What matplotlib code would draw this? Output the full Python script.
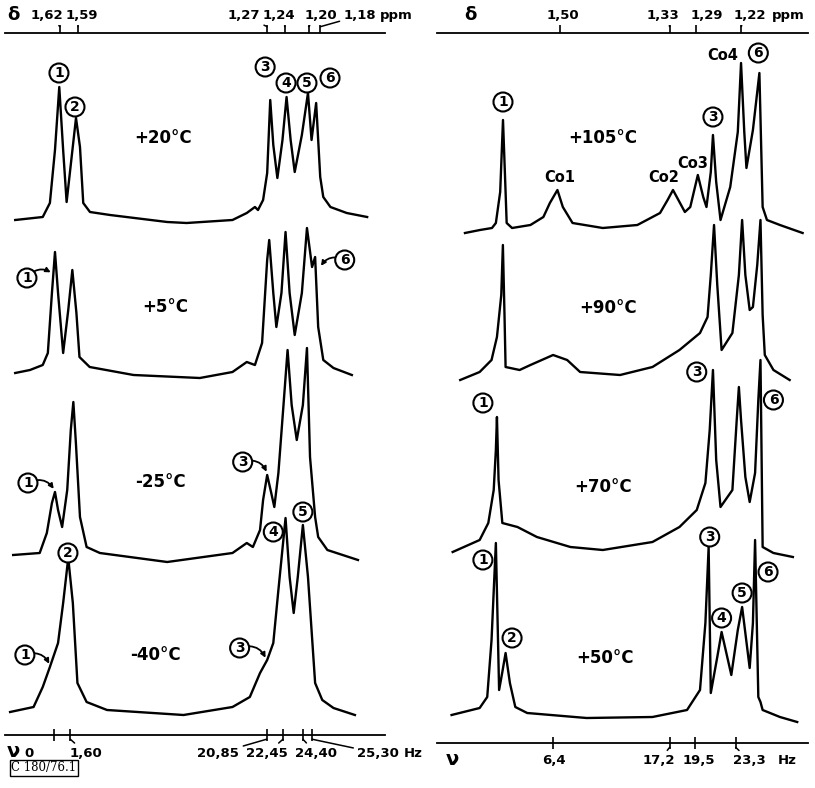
import numpy as np
import matplotlib.pyplot as plt

plt.rcParams['font.family'] = ['DejaVu Sans']

# ---- left panel: -40 .. +20 °C, nu in Hz, intensity in arb. units above baseline
left_temps = ['+20°C', '+5°C', '-25°C', '-40°C']
left_offsets = [515, 362, 180, 23]

nu_l20 = [-3.8, -1.1, -0.4, 0.1, 0.52, 0.9, 1.24, 1.7, 2.16, 2.55, 2.87, 3.53, 5.5, 11.1, 13.0,
          17.5, 18.9, 19.7, 20.0, 20.5, 20.9, 21.2, 21.5, 21.9, 22.4, 22.8, 23.2, 23.6, 24.3,
          24.9, 25.25, 25.7, 26.1, 26.4, 27.1, 28.7, 30.7]
h_l20 = [0, 3, 17, 70, 133, 70, 18, 60, 102, 73, 17, 8, 5, -2, -3,
         0, 7, 13, 10, 20, 47, 120, 75, 42, 80, 123, 80, 48, 85,
         127, 80, 117, 43, 23, 13, 7, 3]

nu_l5 = [-3.8, -2.35, -1.1, -0.6, -0.2, 0.1, 0.4, 0.9, 1.4, 1.8, 2.2, 2.5, 3.5, 7.8, 14.3,
         17.5, 18.9, 19.7, 20.4, 20.9, 21.1, 21.5, 21.8, 22.3, 22.7, 23.1, 23.6, 24.3, 24.8,
         25.3, 25.6, 25.9, 26.4, 27.4, 29.2]
h_l5 = [0, 3, 8, 20, 80, 121, 80, 20, 63, 103, 60, 16, 6, -2, -5,
        1, 11, 8, 30, 113, 133, 80, 46, 80, 141, 80, 38, 80, 145,
        106, 116, 46, 13, 5, -2]

nu_lm25 = [-4.0, -1.4, -0.7, -0.2, 0.1, 0.4, 0.8, 1.3, 1.65, 1.9, 2.15, 2.55, 3.2, 4.5, 11.1,
           17.5, 18.9, 19.5, 20.2, 20.5, 20.9, 21.3, 21.6, 22.0, 22.5, 22.9, 23.3, 23.8, 24.4,
           24.8, 25.1, 25.6, 25.9, 26.8, 29.8]
h_lm25 = [0, 2, 22, 52, 63, 45, 28, 65, 125, 153, 112, 38, 8, 2, -7,
          2, 12, 8, 25, 55, 80, 62, 48, 82, 150, 205, 150, 115, 150,
          207, 98, 38, 18, 5, -5]

nu_lm40 = [-4.3, -2.0, -1.1, -0.4, 0.4, 0.9, 1.4, 1.85, 2.3, 3.2, 5.2, 12.7, 17.5, 19.2,
           20.2, 20.9, 21.5, 22.0, 22.7, 23.1, 23.5, 23.9, 24.4, 24.9, 25.6, 26.3, 27.4, 29.5]
h_lm40 = [0, 5, 25, 45, 69, 109, 154, 109, 29, 10, 2, -3, 5, 15,
          39, 52, 69, 122, 194, 135, 99, 135, 187, 135, 29, 12, 4, -3]

# ---- right panel: +50 .. +105 °C
right_temps = ['+105°C', '+90°C', '+70°C', '+50°C']
right_offsets = [511, 368, 193, 26]

nu_r105 = [-1.76, -0.37, 0.74, 1.1, 1.5, 1.76, 2.0, 2.1, 2.6, 4.3, 5.5, 6.1, 6.8, 7.3, 8.2,
           11.0, 14.2, 16.3, 17.0, 17.5, 18.0, 18.6, 19.1, 19.8, 20.3, 20.6, 21.0, 21.2, 21.5,
           21.9, 22.8, 23.5, 23.8, 24.1, 24.3, 24.9, 25.3, 25.5, 25.8, 26.2, 27.4, 29.5]
h_r105 = [-1, 2, 4, 9, 40, 112, 40, 9, 4, 7, 15, 29, 42, 25, 9,
          4, 7, 19, 32, 42, 32, 20, 25, 57, 35, 25, 60, 97, 50,
          12, 45, 100, 169, 100, 64, 102, 140, 159, 25, 12, 7, -1]

nu_r90 = [-2.2, -0.4, 0.7, 1.2, 1.6, 1.75, 1.9, 2.0, 3.3, 4.3, 6.4, 7.7, 8.9, 12.6, 15.6,
          18.1, 20.0, 20.7, 21.0, 21.3, 21.6, 22.0, 23.0, 23.6, 23.9, 24.2, 24.6, 24.9, 25.3,
          25.6, 25.8, 26.0, 26.8, 28.3]
h_r90 = [-5, 3, 15, 38, 80, 130, 60, 8, 5, 10, 20, 15, 3, 0, 8,
         25, 42, 58, 100, 150, 90, 25, 42, 100, 155, 100, 65, 68, 110,
         155, 60, 20, 5, -5]

nu_r70 = [-2.9, -0.4, 0.4, 0.9, 1.1, 1.2, 1.35, 1.7, 3.1, 4.9, 8.0, 11.0, 15.6, 18.1, 19.7,
          20.5, 20.9, 21.2, 21.5, 21.9, 23.0, 23.4, 23.6, 23.8, 24.2, 24.6, 25.1, 25.4, 25.6,
          25.8, 26.8, 28.6]
h_r70 = [-2, 10, 27, 60, 100, 133, 70, 27, 23, 13, 3, 0, 8, 23, 40,
         67, 120, 180, 90, 43, 60, 130, 163, 130, 73, 48, 77, 150, 190,
         3, -3, -7]

nu_r50 = [-3.0, -0.4, 0.3, 0.7, 1.1, 1.4, 1.7, 2.0, 2.4, 2.9, 4.0, 9.5, 15.6, 18.8, 20.0,
          20.5, 20.8, 21.0, 21.6, 22.0, 22.9, 23.5, 23.9, 24.6, 24.9, 25.1, 25.4, 25.6, 25.8,
          27.4, 29.0]
h_r50 = [2, 9, 20, 77, 174, 27, 45, 64, 34, 10, 4, -1, 0, 7, 27,
         94, 170, 24, 60, 85, 42, 87, 110, 49, 94, 177, 20, 15, 7,
         0, -5]

# axis ticks
left_nu_ticks = [0, 1.60, 20.85, 22.45, 24.40, 25.30]
left_nu_labels = ['0', '1,60', '20,85', '22,45', '24,40', '25,30']
left_ppm_ticks = [1.62, 1.59, 1.27, 1.24, 1.20, 1.18]
left_ppm_labels = ['1,62', '1,59', '1,27', '1,24', '1,20', '1,18']
right_nu_ticks = [6.4, 17.2, 19.5, 23.3]
right_nu_labels = ['6,4', '17,2', '19,5', '23,3']
right_ppm_ticks = [1.50, 1.33, 1.29, 1.22]
right_ppm_labels = ['1,50', '1,33', '1,29', '1,22']

W, H = 815, 788
fig = plt.figure(figsize=(W / 100, H / 100), dpi=100)
axL = fig.add_axes([5 / W, 1 - 735 / H, 380 / W, 702 / H])
axR = fig.add_axes([437 / W, 1 - 743 / H, 371 / W, 710 / H])

TXT = dict(fontweight='bold', color='k')
LBL = 9.5


def setup(ax, xlim, ylim, nu_ticks, ppm_ticks, nu0, ppm0, slope):
    ax.set_xlim(*xlim)
    ax.set_ylim(*ylim)
    for s in ['left', 'right', 'top']:
        ax.spines[s].set_visible(False)
    ax.spines['bottom'].set_linewidth(1.3)
    ax.set_yticks([])
    ax.set_xticks(nu_ticks)
    ax.tick_params(axis='x', direction='inout', length=9, width=1.2, labelbottom=False)
    to_ppm = lambda v: ppm0 - (np.asarray(v) - nu0) / slope
    to_nu = lambda d: nu0 + (ppm0 - np.asarray(d)) * slope
    sec = ax.secondary_xaxis('top', functions=(to_ppm, to_nu))
    sec.set_xticks(ppm_ticks)
    sec.tick_params(direction='out', length=6, width=1.2, labeltop=False)
    sec.spines['top'].set_linewidth(1.3)
    return to_nu


def axis_labels(ax, ticks, labels, xs, y, side, leaders):
    tr = ax.get_xaxis_transform()
    y0 = 1.009 if side == 'top' else -0.006
    for t, lab, x, lead in zip(ticks, labels, xs, leaders):
        arrow = None
        if lead:
            arrow = dict(arrowstyle='-', lw=1.1, color='k', shrinkA=1, shrinkB=0)
        ax.annotate(lab, xy=(t, y0), xycoords=tr, xytext=(x, y), textcoords=tr,
                    ha='center', va='center', fontsize=LBL, arrowprops=arrow,
                    annotation_clip=False, **TXT)


def circ(ax, x, y, n, target=None, rad=-0.45):
    kw = dict(ha='center', va='center', fontsize=10, zorder=5,
              bbox=dict(boxstyle='circle,pad=0.18', fc='white', ec='k', lw=1.5), **TXT)
    if target is None:
        ax.text(x, y, str(n), **kw)
    else:
        ax.annotate(str(n), xy=target, xytext=(x, y),
                    arrowprops=dict(arrowstyle='-|>', connectionstyle=f'arc3,rad={rad}',
                                    lw=1.3, color='k', mutation_scale=7, shrinkA=0, shrinkB=1),
                    **kw)


# ---------------- left panel
to_nu_L = setup(axL, (-4.8, 32.45), (0, 702), left_nu_ticks, left_ppm_ticks, 0.6, 1.62, 58.0)
left_traces = [(nu_l20, h_l20), (nu_l5, h_l5), (nu_lm25, h_lm25), (nu_lm40, h_lm40)]
for (nu, h), off in zip(left_traces, left_offsets):
    axL.plot(nu, np.asarray(h) + off, color='k', lw=1.7, solid_joinstyle='round')

for temp, (x, y) in zip(left_temps, [(10.7, 597), (10.9, 428), (10.4, 253), (9.9, 80)]):
    axL.text(x, y, temp, ha='center', va='center', fontsize=12, **TXT)

circ(axL, 0.49, 662, 1)
circ(axL, 2.06, 628, 2)
circ(axL, 20.7, 668, 3)
circ(axL, 22.75, 652, 4)
circ(axL, 24.8, 652, 5)
circ(axL, 27.06, 657, 6)
circ(axL, -2.65, 457, 1, target=(-0.2, 462))
circ(axL, 28.5, 475, 6, target=(26.1, 468), rad=0.45)
circ(axL, -2.55, 252, 1, target=(0.05, 245))
circ(axL, 18.5, 273, 3, target=(20.9, 262))
circ(axL, -2.85, 80, 1, target=(-0.4, 70))
circ(axL, 1.37, 182, 2)
circ(axL, 18.2, 87, 3, target=(20.8, 76))
circ(axL, 21.5, 203, 4)
circ(axL, 24.4, 223, 5)

axis_labels(axL, to_nu_L(left_ppm_ticks), left_ppm_labels,
            [-0.69, 2.75, 18.6, 22.06, 26.2, 30.0], 1.025, 'top',
            [True, True, True, True, True, True])
axis_labels(axL, left_nu_ticks, left_nu_labels,
            [-2.45, 3.14, 16.1, 20.9, 25.7, 31.8], -0.026, 'bottom',
            [False, True, True, True, True, True])
trL = axL.get_xaxis_transform()
axL.text(-4.0, 1.025, 'δ', transform=trL, ha='center', va='center', fontsize=13, **TXT)
axL.text(33.6, 1.025, 'ppm', transform=trL, ha='center', va='center', fontsize=LBL,
         clip_on=False, **TXT)
axL.text(-4.0, -0.024, 'ν', transform=trL, ha='center', va='center', fontsize=14, **TXT)
axL.text(35.2, -0.026, 'Hz', transform=trL, ha='center', va='center', fontsize=LBL,
         clip_on=False, **TXT)

# ---------------- right panel
to_nu_R = setup(axR, (-4.35, 30.0), (0, 710), right_nu_ticks, right_ppm_ticks, 7.0, 1.50, 60.0)
right_traces = [(nu_r105, h_r105), (nu_r90, h_r90), (nu_r70, h_r70), (nu_r50, h_r50)]
for (nu, h), off in zip(right_traces, right_offsets):
    axR.plot(nu, np.asarray(h) + off, color='k', lw=1.7, solid_joinstyle='round')

for temp, (x, y) in zip(right_temps, [(11.0, 605), (11.5, 435), (11.0, 256), (11.2, 85)]):
    axR.text(x, y, temp, ha='center', va='center', fontsize=12, **TXT)

for lab, (x, y) in zip(['Co1', 'Co2', 'Co3', 'Co4'],
                       [(7.04, 565), (16.6, 565), (19.35, 580), (22.1, 688)]):
    axR.text(x, y, lab, ha='center', va='center', fontsize=10.5, **TXT)

circ(axR, 1.76, 641, 1)
circ(axR, 21.2, 626, 3)
circ(axR, 25.4, 690, 6)
circ(axR, -0.1, 340, 1)
circ(axR, 19.7, 371, 3)
circ(axR, 26.8, 343, 6)
circ(axR, -0.1, 183, 1)
circ(axR, 2.6, 105, 2)
circ(axR, 20.9, 206, 3)
circ(axR, 22.0, 125, 4)
circ(axR, 23.9, 150, 5)
circ(axR, 26.3, 171, 6)

axis_labels(axR, to_nu_R(right_ppm_ticks), right_ppm_labels,
            [7.3, 16.6, 20.6, 24.6], 1.025, 'top', [False, True, False, True])
axis_labels(axR, right_nu_ticks, right_nu_labels, [6.5, 16.2, 19.9, 24.6], -0.025, 'bottom',
            [False, True, False, True])
trR = axR.get_xaxis_transform()
axR.text(-1.3, 1.025, 'δ', transform=trR, ha='center', va='center', fontsize=13, **TXT)
axR.text(28.2, 1.025, 'ppm', transform=trR, ha='center', va='center', fontsize=LBL, **TXT)
axR.text(-2.9, -0.023, 'ν', transform=trR, ha='center', va='center', fontsize=14, **TXT)
axR.text(28.1, -0.025, 'Hz', transform=trR, ha='center', va='center', fontsize=LBL, **TXT)

fig.text(44 / W, 1 - 768 / H, 'C 180/76.1', ha='center', va='center', fontsize=8.5,
         family='DejaVu Serif', bbox=dict(boxstyle='square,pad=0.15', fc='white', ec='k', lw=1.0))

fig.savefig('out.png', dpi=100)
